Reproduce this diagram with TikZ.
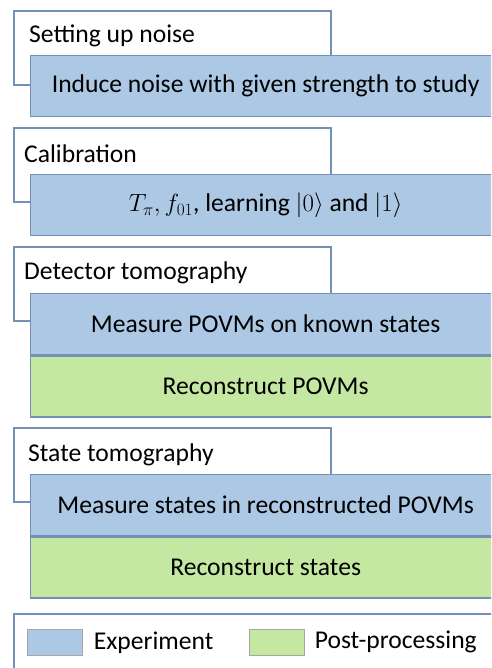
\documentclass[tikz,border=0pt]{standalone}
\usepackage{fontspec}
\setmainfont{Carlito}
\usetikzlibrary{positioning}
\definecolor{frame}{RGB}{115,145,180}
\definecolor{expblue}{RGB}{172,200,228}
\definecolor{ppgreen}{RGB}{196,231,161}
\begin{document}
\begin{tikzpicture}[x=1pt,y=1pt,
    hdr/.style = {draw=frame, line width=2pt, fill=white, anchor=north west,
                  minimum width=317pt, minimum height=74pt, inner sep=0pt},
    ttl/.style = {anchor=west, inner sep=0pt, font=\fontsize{25.6}{30}\selectfont},
    stage/.style = {draw=frame, line width=1.3pt, anchor=north west,
                  minimum width=470pt, minimum height=61pt, inner sep=0pt,
                  font=\fontsize{25.6}{30}\selectfont},
    exp/.style = {stage, fill=expblue},
    post/.style = {stage, fill=ppgreen, anchor=north},
    swatch/.style = {draw=black!35, line width=0.6pt, anchor=north west,
                  minimum width=55pt, minimum height=26pt, inner sep=0pt},
    lbl/.style = {anchor=west, inner sep=0pt, font=\fontsize{25.6}{30}\selectfont},
  ]
  \useasboundingbox (0,0) rectangle (491,-668);
  \clip (0,0) rectangle (491,-668);
  % setting up noise
  \node[hdr] (h1) at (13,-10) {};
  \node[ttl] (t1) at ([shift={(16pt,-26pt)}]h1.north west) {Setting up noise};
  \node[exp] (e1) at ([shift={(17pt,-45pt)}]h1.north west)
    {Induce noise with given strength to study};
  % calibration
  \node[hdr] (h2) at (13,-127) {};
  \node[ttl] (t2) at ([shift={(11pt,-27pt)}]h2.north west) {Calibration};
  \node[exp] (e2) at ([shift={(17pt,-47pt)}]h2.north west)
    {$T_\pi, f_{01}$, learning $|0\rangle$ and $|1\rangle$};
  % detector tomography
  \node[hdr] (h3) at (13,-246) {};
  \node[ttl] (t3) at ([shift={(11pt,-27pt)}]h3.north west) {Detector tomography};
  \node[exp] (e3) at ([shift={(17pt,-47pt)}]h3.north west)
    {Measure POVMs on known states};
  \node[post, below=0pt of e3] (p3) {Reconstruct POVMs};
  % state tomography
  \node[hdr] (h4) at (13,-427) {};
  \node[ttl] (t4) at ([shift={(15pt,-28pt)}]h4.north west) {State tomography};
  \node[exp] (e4) at ([shift={(17pt,-47pt)}]h4.north west)
    {Measure states in reconstructed POVMs};
  \node[post, below=0pt of e4] (p4) {Reconstruct states};
  % legend
  \node[draw=frame, line width=2pt, anchor=north west, minimum width=500pt,
        minimum height=80pt] (leg) at (13,-613) {};
  \node[swatch, fill=expblue] (s1) at (27,-629) {};
  \node[lbl, right=11pt of s1] (l1) {Experiment};
  \node[swatch, fill=ppgreen] (s2) at (249,-629) {};
  \node[lbl, right=10pt of s2] (l2) {Post-processing};
\end{tikzpicture}
\end{document}
